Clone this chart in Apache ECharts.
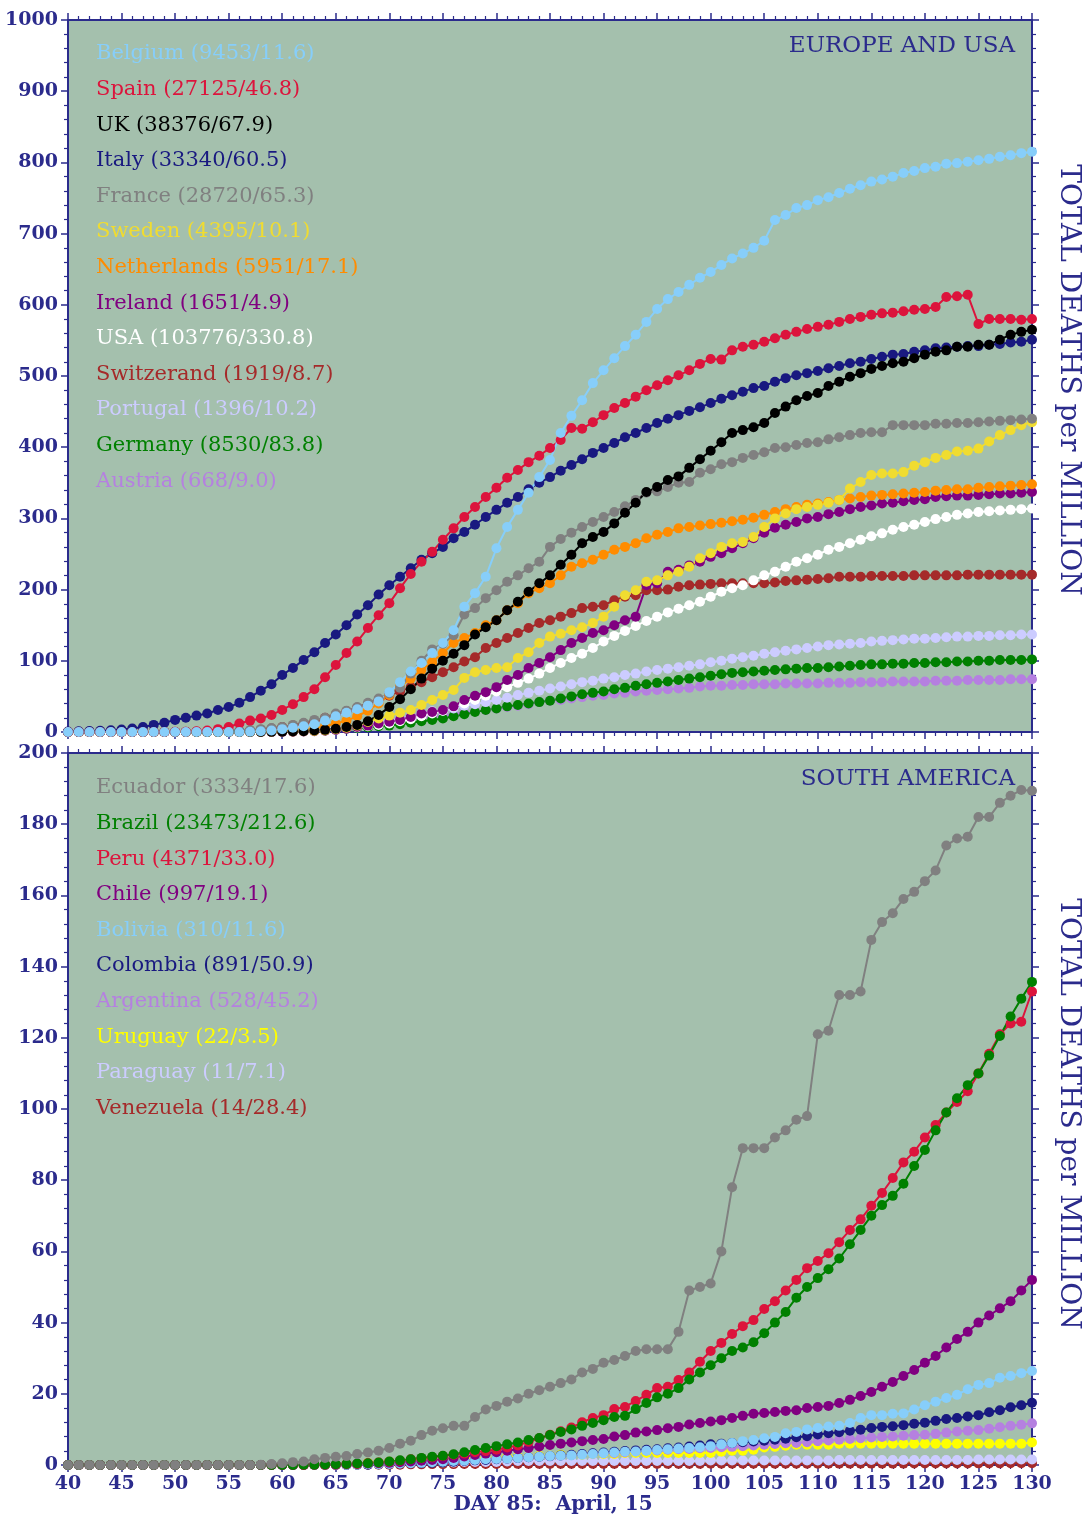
<!DOCTYPE html>
<html>
<head>
<meta charset="utf-8">
<script src="https://cdn.jsdelivr.net/npm/echarts@6/dist/echarts.min.js"></script>
<style>
  html, body { margin: 0; padding: 0; background: #ffffff; }
  #chart { width: 1084px; height: 1517px; }
</style>
</head>
<body>
<div id="chart"></div>
<script>
// first day on the x axis, each array holds one value per day (40 .. 130)
const DAY0 = 40;

// ---- Europe and USA (deaths per million) ----
const belgium = [
  0,0,0,0,0,0,0,0,0,0,
  0,0,0,0,0,0,0,0.5,1,2,
  4,6,8,11,16,22,27,32,37,43,
  56,70,85,97,111,125,143,176,195,218,
  258,288,312,336,358,382,420,444,466,490,
  508,525,542,558,576,594,608,618,628,638,
  646,656,665,672,680,690,719,726,736,740,
  747,751,757,763,768,773,776,780,785,788,
  792,794,798,799,801,803,805,808,810,813,
  815];
const spain = [
  0,0,0,0,0,0,0,0,0,0,
  0.3,0.5,1,2,4,7,12,16,19,24,
  31,39,49,60,77,94,111,127,146,164,
  181,202,222,239,253,270,286,302,316,330,
  343,357,368,379,388,399,410,427,426,435,
  445,455,462,471,480,487,494,501,508,517,
  524,523,536,541,544,548,553,558,562,566,
  569,572,576,580,583,586,588,589,591,593,
  594,597,611,612,614,573,580,580,580,579,
  580];
const uk = [
  0,0,0,0,0,0,0,0,0,0,
  0,0,0,0,0,0,0,0,0.1,0.2,
  0.4,0.8,1.2,2,3,4.5,7,10,15,24,
  35,46,60,75,89,100,110,122,137,147,
  157,171,183,197,209,220,235,249,265,274,
  281,293,308,322,337,344,354,359,371,383,
  395,407,420,424,428,434,448,457,466,472,
  476,486,492,499,504,510,514,518,520,525,
  530,534,536,541,541,544,544,551,558,562,
  565];
const italy = [
  0.6,0.9,1.3,1.8,2.5,3.5,5,7,10,13,
  17,20,23,26,31,35,41,49,58,67,
  80,90,101,112,125,137,150,165,178,193,
  206,218,230,242,251,260,272,281,291,302,
  312,322,330,341,350,358,367,375,383,392,
  399,406,414,420,427,434,440,445,451,456,
  462,468,473,478,483,486,492,497,501,504,
  507,511,514,518,520,524,527,530,531,534,
  536,539,540,541,542,542,544,545,547,548,
  551];
const france = [
  0,0,0,0,0,0,0,0,0,0,
  0.1,0.2,0.3,0.5,1,1.5,2,2.7,4,5.5,
  7,10,13,17,20,26,30,35,41,47,
  54,62,82,100,116,124,136,165,174,188,
  199,211,220,230,239,260,271,280,288,295,
  302,309,317,326,336,338,344,350,351,364,
  369,376,379,385,389,393,399,400,403,406,
  407,411,414,417,420,421,421,431,431,431,
  431,433,433,434,434,435,436,437,438,439,
  440];
const sweden = [
  0,0,0,0,0,0,0,0,0,0,
  0,0,0,0,0,0,0,0,0.2,0.4,
  0.6,0.8,1,1.5,2,4,6,9,14,19,
  23,27,31,38,45,52,59,76,84,87,
  90,91,104,112,125,134,138,143,147,153,
  162,176,192,199,211,213,220,225,232,244,
  251,260,265,267,274,288,300,307,313,316,
  319,322,326,342,351,361,363,363,365,374,
  379,385,389,394,395,398,408,417,424,431,
  435];
const netherlands = [
  0,0,0,0,0,0,0,0,0,0,
  0,0,0,0,0.1,0.2,0.3,0.4,0.6,0.8,
  1.2,2,3,5,8,12,16,22,30,40,
  52,64,75,87,98,111,125,132,139,150,
  157,171,181,195,202,209,220,232,237,242,
  249,256,260,265,272,277,281,286,288,290,
  292,294,296,298,301,305,309,313,316,319,
  321,323,326,328,330,332,333,334,335,336,
  337,339,340,341,341,343,344,345,346,347,
  348];
const ireland = [
  0,0,0,0,0,0,0,0,0,0,
  0,0,0,0,0,0,0,0,0,0,
  0.2,0.4,0.6,1,1.8,3,4.5,7,9,12,
  14.5,17,21,26,28,31,36,45,51,56,
  63,73,80,90,97,105,115,125,132,139,
  143,150,157,162,206,209,225,228,234,239,
  246,251,258,265,272,280,287,291,295,300,
  302,306,309,313,316,318,321,322,324,326,
  327,330,331,332,332,333,334,335,335,336,
  337];
const usa = [
  0,0,0,0,0,0,0,0,0,0,
  0,0,0,0,0,0,0,0.1,0.2,0.3,
  0.5,0.8,1.2,1.8,2.5,3.5,5,6.5,8,10,
  12,15,18,22,26,30,35,40,45,51,
  57,63,69,75,82,90,97,104,110,118,
  127,135,142,149,156,162,168,173,178,183,
  190,197,202,206,213,220,225,232,239,244,
  249,256,260,265,270,275,279,284,288,291,
  295,299,302,305,307,309,310,311,312,313,
  314];
const switzerland = [
  0,0,0,0,0,0,0,0,0,0,
  0,0,0,0,0.2,0.5,1,2,3,5,
  7,9,12,15,20,24,29,34,39,45,
  51,57,63,70,77,84,91,99,105,118,
  125,132,139,146,153,157,162,167,174,176,
  178,185,190,192,199,199,200,204,206,207,
  208,209,209,209,209,209,210,212,213,214,
  215,216,218,218,218,219,219,219,219,220,
  220,220,220,220,221,221,221,221,221,221,
  221];
const portugal = [
  0,0,0,0,0,0,0,0,0,0,
  0,0,0,0,0,0,0,0,0,0,
  1,1.2,2,3,4,6,7,10,12,14,
  16,19,22,26,29,30,33,37,39,42,
  45,48,52,55,58,61,64,67,70,72,
  75,77,80,82,85,87,89,91,93,95,
  98,100,103,105,107,110,112,114,116,118,
  120,122,123,124,125,127,128,129,130,131,
  131,132,133,134,134,135,135,136,136,137,
  137];
const germany = [
  0,0,0,0,0,0,0,0,0,0,
  0,0,0,0,0,0.1,0.2,0.3,0.4,0.8,
  1,1.3,1.6,2,2.5,3.5,4.5,5.5,6.5,8,
  9,11,13,15,17,19,22,25,28,31,
  33,36,38,40,42,44,47,50,53,55,
  57,60,62,65,67,69,71,73,75,77,
  79,81,83,84,85,86,87,88,89,90,
  90,91,92,93,94,95,95,96,96,97,
  97,98,98,99,99,100,100,101,101,101,
  102];
const austria = [
  0,0,0,0,0,0,0,0,0,0,
  0,0,0,0,0,0,0,0,0.1,0.2,
  0.6,0.9,1.5,2,3,4,6,8,10,12,
  14,16,18,20,21,23,25,27,29,31,
  33,35,37,39,42,44,45,47,49,51,
  52,54,55,57,58,59,60,61,62,64,
  65,65,66,66,67,67,67,68,68,68,
  68,69,69,69,70,70,70,71,71,71,
  71,72,72,72,73,73,73,73,74,74,
  74];

// ---- South America (deaths per million) ----
const ecuador = [
  0,0,0,0,0,0,0,0,0,0,
  0,0,0,0,0,0,0,0,0.1,0.3,
  0.5,0.8,1,1.6,2,2.3,2.5,3.1,3.5,4,
  4.8,6,6.8,8.4,9.6,10.3,11,11,13.5,15.6,
  16.6,17.8,18.7,20,21,22,23,24,26,27,
  28.7,29.5,30.6,32,32.5,32.5,32.5,37.4,49,50,
  51,60,78,89,89,89,92,94,97,98,
  121,122,132,132,133,147.5,152.5,155,159,161,
  164,167,174,176,176.5,182,182,186,188,189.6,
  189.4];
const brazil = [
  0,0,0,0,0,0,0,0,0,0,
  0,0,0,0,0,0,0,0,0,0,
  0,0.02,0.05,0.1,0.15,0.2,0.3,0.4,0.5,0.7,
  1,1.3,1.6,2,2.3,2.6,3,3.6,4.2,4.8,
  5.3,5.8,6.3,7,7.6,8.4,9.3,10,11,11.8,
  12.6,13.5,13.8,15.7,17.4,19,20,21.6,24,26,
  28,30,32,33,34.5,37,40,43,47,50,
  52.5,55,58,62,66,70,73,75.6,79,84,
  88.5,94,99,103,106.7,110,115,120.5,126,131,
  135.7];
const peru = [
  0,0,0,0,0,0,0,0,0,0,
  0,0,0,0,0,0,0,0,0,0,
  0,0,0,0.05,0.1,0.15,0.2,0.3,0.5,0.7,
  0.9,1.2,1.6,1.9,2.2,2.5,2.9,3.2,3.6,3.9,
  4.3,4.9,5.5,6.5,7.5,8.5,9.5,10.5,12,13.2,
  14,15.7,16.3,18,19.7,21.6,22,23.9,26,29,
  32,34.3,36.8,39,40.7,43.8,46,49,52,55.3,
  57.3,59.5,62.6,66,69,72.8,76.4,80.6,85,88,
  92,95.5,99,102,105,110,115.5,121,124,124.5,
  133];
const chile = [
  0,0,0,0,0,0,0,0,0,0,
  0,0,0,0,0,0,0,0,0,0,
  0,0,0,0.05,0.1,0.1,0.2,0.3,0.4,0.5,
  0.6,0.8,1,1.2,1.4,1.6,2,2.4,2.8,3.2,
  3.6,4,4.4,4.8,5.2,5.6,6,6.3,6.7,7,
  7.3,8,8.4,9.1,9.4,9.8,10.3,10.7,11.4,11.8,
  12.2,12.6,13.2,13.8,14.4,14.6,14.9,15.2,15.4,16,
  16.3,16.6,17.4,18.3,19.4,20.5,22,23.3,25,26.7,
  28.7,30.6,33,35.4,37.4,40,42,44,46,49,
  52];
const bolivia = [
  0,0,0,0,0,0,0,0,0,0,
  0,0,0,0,0,0,0,0,0,0,
  0,0,0,0,0,0,0,0.1,0.2,0.2,
  0.3,0.4,0.5,0.6,0.8,0.9,1.1,1.2,1.4,1.6,
  1.7,1.8,2,2.2,2.3,2.5,2.6,2.7,2.9,3.1,
  3.3,3.5,3.7,3.8,4,4.2,4.4,4.6,4.8,5,
  5.3,5.8,6.2,6.7,7,7.5,7.9,8.9,9.3,10,
  10.4,10.8,11,11.8,13.2,14,14,14.4,14.5,15.6,
  16.8,17.8,18.8,19.7,21.3,22.5,23,24.5,25,25.8,
  26.4];
const colombia = [
  0,0,0,0,0,0,0,0,0,0,
  0,0,0,0,0,0,0,0,0,0,
  0,0,0,0,0,0,0,0.05,0.1,0.2,
  0.3,0.4,0.5,0.5,0.6,0.7,0.9,1.1,1.3,1.4,
  1.6,1.8,2,2.2,2.3,2.5,2.7,2.9,3.1,3.3,
  3.5,3.7,3.9,4.1,4.3,4.4,4.7,4.9,5.2,5.5,
  5.8,6,6.2,6.4,6.6,6.8,7.1,7.4,7.8,8.1,
  8.6,8.9,9.2,9.6,9.9,10.4,10.7,10.9,11.2,11.6,
  11.9,12.4,12.9,13.2,13.6,14,14.8,15.4,16.2,16.8,
  17.5];
const argentina = [
  0,0,0,0,0,0,0,0,0,0,
  0,0,0,0,0,0,0,0,0,0,
  0.02,0.04,0.05,0.1,0.13,0.2,0.3,0.4,0.5,0.5,
  0.6,0.7,0.8,0.9,0.9,1,1.2,1.3,1.5,1.6,
  1.8,1.9,2,2.2,2.3,2.4,2.6,2.8,3,3.2,
  3.3,3.4,3.6,3.8,4,4.1,4.3,4.4,4.5,4.7,
  4.8,5,5.1,5.3,5.5,5.7,5.9,6.1,6.2,6.4,
  6.7,6.9,7.1,7.3,7.5,7.7,7.9,8,8.2,8.4,
  8.5,8.8,9.1,9.4,9.6,9.8,10.2,10.6,11,11.3,
  11.7];
const uruguay = [
  0,0,0,0,0,0,0,0,0,0,
  0,0,0,0,0,0,0,0,0,0,
  0,0,0,0,0,0,0.3,0.3,0.6,0.6,
  0.9,1.1,1.1,1.4,1.4,1.4,1.7,1.7,2,2,
  2,2.3,2.3,2.3,2.6,2.6,2.9,2.9,2.9,3.1,
  3.1,3.1,3.4,3.4,3.4,3.4,3.4,3.4,3.4,3.4,
  3.4,3.7,4,4,4.3,4.9,5.1,5.4,5.7,5.7,
  5.7,5.7,6,6,6,6,6,6,6,6,
  6,6,6,6,6,6,6,6,6,6,
  6.3];
const paraguay = [
  0,0,0,0,0,0,0,0,0,0,
  0,0,0,0,0,0,0,0,0,0,
  0,0,0.14,0.14,0.14,0.28,0.28,0.28,0.42,0.42,
  0.42,0.42,0.56,0.56,0.7,0.7,0.7,0.85,0.85,0.85,
  0.85,0.99,1.13,1.13,1.13,1.13,1.13,1.13,1.13,1.13,
  1.13,1.13,1.13,1.13,1.13,1.13,1.13,1.13,1.13,1.13,
  1.27,1.27,1.27,1.27,1.27,1.27,1.27,1.27,1.27,1.27,
  1.27,1.27,1.41,1.41,1.41,1.41,1.41,1.41,1.41,1.41,
  1.41,1.41,1.41,1.41,1.41,1.55,1.55,1.55,1.55,1.55,
  1.55];
const venezuela = [
  0,0,0,0,0,0,0,0,0,0,
  0,0,0,0,0,0,0,0,0,0,
  0,0,0,0,0,0,0.04,0.07,0.07,0.07,
  0.1,0.1,0.18,0.18,0.25,0.25,0.25,0.28,0.28,0.28,
  0.28,0.28,0.32,0.32,0.32,0.32,0.32,0.32,0.32,0.32,
  0.32,0.32,0.32,0.32,0.32,0.32,0.32,0.32,0.32,0.32,
  0.35,0.35,0.35,0.35,0.35,0.35,0.35,0.35,0.35,0.35,
  0.35,0.39,0.39,0.39,0.39,0.39,0.39,0.39,0.39,0.42,
  0.42,0.42,0.42,0.42,0.42,0.46,0.46,0.46,0.49,0.49,
  0.49];

// legend order = drawing priority (first one sits on top)
const europe = [
  { label: 'Belgium (9453/11.6)', color: '#87cefa', data: belgium },
  { label: 'Spain (27125/46.8)', color: '#dc143c', data: spain },
  { label: 'UK (38376/67.9)', color: '#000000', data: uk },
  { label: 'Italy (33340/60.5)', color: '#191980', data: italy },
  { label: 'France (28720/65.3)', color: '#808080', data: france },
  { label: 'Sweden (4395/10.1)', color: '#f0dc30', data: sweden },
  { label: 'Netherlands (5951/17.1)', color: '#ff8c00', data: netherlands },
  { label: 'Ireland (1651/4.9)', color: '#800080', data: ireland },
  { label: 'USA (103776/330.8)', color: '#ffffff', data: usa },
  { label: 'Switzerand (1919/8.7)', color: '#a52a2a', data: switzerland },
  { label: 'Portugal (1396/10.2)', color: '#ccccff', data: portugal },
  { label: 'Germany (8530/83.8)', color: '#008000', data: germany },
  { label: 'Austria (668/9.0)', color: '#b580e0', data: austria }
];
const southAmerica = [
  { label: 'Ecuador (3334/17.6)', color: '#808080', data: ecuador },
  { label: 'Brazil (23473/212.6)', color: '#008000', data: brazil },
  { label: 'Peru (4371/33.0)', color: '#dc143c', data: peru },
  { label: 'Chile (997/19.1)', color: '#800080', data: chile },
  { label: 'Bolivia (310/11.6)', color: '#87cefa', data: bolivia },
  { label: 'Colombia (891/50.9)', color: '#191980', data: colombia },
  { label: 'Argentina (528/45.2)', color: '#b580e0', data: argentina },
  { label: 'Uruguay (22/3.5)', color: '#ffff00', data: uruguay },
  { label: 'Paraguay (11/7.1)', color: '#ccccff', data: paraguay },
  { label: 'Venezuela (14/28.4)', color: '#a52a2a', data: venezuela }
];

const NAVY = '#2b2b8c';
const SERIF = '"DejaVu Serif", serif';
const PLOT_BG = '#a4c0ad';

const tickLabel = {
  color: NAVY, fontFamily: SERIF, fontWeight: 'bold', fontSize: 19, margin: 10,
  formatter: v => String(v)
};

function xAxisFor(grid, pos, showLabel) {
  return {
    type: 'value', gridIndex: grid, position: pos,
    min: 40, max: 130, interval: 5,
    axisLine: { show: true, onZero: false, lineStyle: { color: NAVY, width: 2 } },
    axisTick: { show: true, inside: false, length: 7, lineStyle: { color: NAVY, width: 1.5 } },
    minorTick: { show: true, splitNumber: 5, length: 4, lineStyle: { color: NAVY, width: 1.2 } },
    axisLabel: Object.assign({ show: showLabel }, tickLabel),
    splitLine: { show: false }
  };
}
function yAxisFor(grid, pos, max, step, showLabel) {
  return {
    type: 'value', gridIndex: grid, position: pos,
    min: 0, max: max, interval: step,
    axisLine: { show: true, onZero: false, lineStyle: { color: NAVY, width: 2 } },
    axisTick: { show: true, inside: false, length: 7, lineStyle: { color: NAVY, width: 1.5 } },
    minorTick: { show: true, splitNumber: 5, length: 4, lineStyle: { color: NAVY, width: 1.2 } },
    axisLabel: Object.assign({ show: showLabel }, tickLabel),
    splitLine: { show: false }
  };
}

function makeSeries(list, axisIdx) {
  // reversed so the first legend entry is drawn last (on top)
  return list.slice().reverse().map(c => ({
    type: 'line',
    name: c.label,
    xAxisIndex: axisIdx,
    yAxisIndex: axisIdx,
    data: c.data.map((v, i) => [DAY0 + i, v]),
    symbol: 'circle',
    symbolSize: 10,
    showSymbol: true,
    showAllSymbol: true,
    color: c.color,
    itemStyle: { color: c.color },
    lineStyle: { color: c.color, width: 2 },
    silent: true
  }));
}

function legendTexts(list, y0) {
  return list.map((c, i) => ({
    type: 'text',
    x: 96,
    y: y0 + i * 35.6,
    style: { text: c.label, fill: c.color, font: '21px ' + SERIF, verticalAlign: 'middle' }
  }));
}

const chart = echarts.init(document.getElementById('chart'));
chart.setOption({
  animation: false,
  backgroundColor: '#ffffff',
  grid: [
    { left: 68, top: 20, width: 964, height: 712, show: true, backgroundColor: PLOT_BG, borderWidth: 0 },
    { left: 68, top: 753, width: 964, height: 712, show: true, backgroundColor: PLOT_BG, borderWidth: 0 }
  ],
  xAxis: [
    xAxisFor(0, 'bottom', false),
    xAxisFor(1, 'bottom', true),
    xAxisFor(0, 'top', false),
    xAxisFor(1, 'top', false)
  ],
  yAxis: [
    yAxisFor(0, 'left', 1000, 100, true),
    yAxisFor(1, 'left', 200, 20, true),
    yAxisFor(0, 'right', 1000, 100, false),
    yAxisFor(1, 'right', 200, 20, false)
  ],
  series: makeSeries(europe, 0).concat(makeSeries(southAmerica, 1)),
  graphic: legendTexts(europe, 54)
    .concat(legendTexts(southAmerica, 788))
    .concat([
      { type: 'text', x: 1015, y: 46,
        style: { text: 'EUROPE AND USA', fill: NAVY, font: '23px ' + SERIF,
                 align: 'right', verticalAlign: 'middle' } },
      { type: 'text', x: 1015, y: 779,
        style: { text: 'SOUTH AMERICA', fill: NAVY, font: '23px ' + SERIF,
                 align: 'right', verticalAlign: 'middle' } },
      { type: 'text', x: 1068, y: 380, rotation: -Math.PI / 2,
        style: { text: 'TOTAL DEATHS per MILLION', fill: NAVY, font: '28px ' + SERIF,
                 align: 'center', verticalAlign: 'middle' } },
      { type: 'text', x: 1068, y: 1114, rotation: -Math.PI / 2,
        style: { text: 'TOTAL DEATHS per MILLION', fill: NAVY, font: '28px ' + SERIF,
                 align: 'center', verticalAlign: 'middle' } },
      { type: 'text', x: 553, y: 1505,
        style: { text: 'DAY 85:  April, 15', fill: NAVY, font: 'bold 20px ' + SERIF,
                 align: 'center', verticalAlign: 'middle' } }
    ])
});
</script>
</body>
</html>
